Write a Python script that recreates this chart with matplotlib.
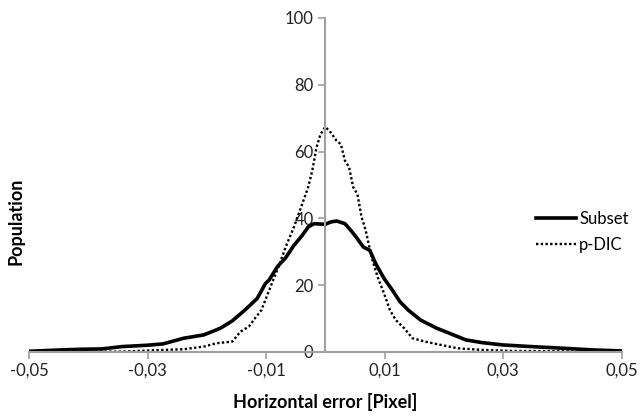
import numpy as np
import matplotlib
matplotlib.use("Agg")
import matplotlib.pyplot as plt

# values
subset_x = [-0.05, -0.0446, -0.0412, -0.0377, -0.0343, -0.0301, -0.0274, -0.0239, -0.0205,
            -0.0177, -0.0157, -0.0136, -0.0115, -0.0101, -0.0095, -0.0081, -0.0067, -0.0053,
            -0.0039, -0.0029, -0.0019, 0.0, 0.0009, 0.0019, 0.0033, 0.0043, 0.0054, 0.0064,
            0.0075, 0.0085, 0.0099, 0.0113, 0.0126, 0.014, 0.0161, 0.0188, 0.0209, 0.0237,
            0.0264, 0.0299, 0.0347, 0.0402, 0.0451, 0.05]
subset_y = [0.2, 0.6, 0.8, 0.9, 1.6, 2.0, 2.4, 4.1, 5.1,
            7.1, 9.3, 12.5, 16.0, 20.5, 21.5, 25.5, 28.2, 31.9,
            34.9, 37.4, 38.4, 38.2, 38.9, 39.2, 38.4, 36.4, 33.9, 31.4,
            30.4, 26.4, 22.0, 18.5, 15.0, 12.5, 9.5, 7.1, 5.6, 3.6,
            2.8, 2.1, 1.6, 1.1, 0.6, 0.3]

pdic_x = [-0.05, -0.0343, -0.0274, -0.0239, -0.0205, -0.0184, -0.0157, -0.0143, -0.0129,
          -0.0119, -0.0108, -0.0098, -0.0088, -0.0077, -0.0067, -0.0053, -0.0039, -0.0029,
          -0.0022, -0.0015, -0.0008, 0.0, 0.0009, 0.0019, 0.0026, 0.0033, 0.004, 0.0047,
          0.0054, 0.0061, 0.0068, 0.0078, 0.0088, 0.0099, 0.0109, 0.0119, 0.0133, 0.0147,
          0.0168, 0.0195, 0.0223, 0.0264, 0.0313, 0.05]
pdic_y = [0.1, 0.1, 0.6, 0.8, 1.6, 2.6, 3.1, 6.1, 7.6,
          10.0, 12.5, 17.0, 21.5, 26.4, 31.4, 37.4, 44.3, 49.3,
          54.3, 61.2, 65.2, 67.4, 65.7, 63.2, 62.2, 57.3, 55.3, 49.3,
          47.3, 40.4, 36.4, 28.4, 22.5, 17.5, 12.5, 9.5, 7.1, 4.1,
          3.1, 2.1, 1.1, 0.6, 0.3, 0.1]

xticks = [-0.05, -0.03, -0.01, 0.01, 0.03, 0.05]
xtick_labels = ['-0,05', '-0,03', '-0,01', '0,01', '0,03', '0,05']
yticks = [0, 20, 40, 60, 80, 100]

plt.rcParams["font.family"] = ["Lato", "DejaVu Sans"]
plt.rcParams["font.size"] = 12

fig = plt.figure(figsize=(6.43, 4.16), dpi=100)
ax = fig.add_axes([0.045, 0.154, 0.922, 0.803])

ax.plot(subset_x, subset_y, color='black', lw=2.6, label='Subset')
ax.plot(pdic_x, pdic_y, color='black', lw=1.7, linestyle=(0, (1, 1)), label='p-DIC')

ax.set_xlim(-0.05, 0.05)
ax.set_ylim(0, 100)
ax.set_xticks(xticks)
ax.set_xticklabels(xtick_labels)
ax.set_yticks(yticks)

grey = '#a0a0a0'
ax.spines['left'].set_position(('data', 0))
ax.spines['right'].set_visible(False)
ax.spines['top'].set_visible(False)
for s in ('left', 'bottom'):
    ax.spines[s].set_color(grey)
    ax.spines[s].set_linewidth(1.5)
ax.tick_params(axis='both', colors=grey, labelcolor='#222222', length=5, width=1.2, labelsize=12)
ax.tick_params(axis='x', pad=3)

ax.set_xlabel('Horizontal error [Pixel]', fontsize=13, fontweight='bold', labelpad=10)
fig.text(0.025, 0.469, 'Population', rotation=90, fontsize=13, fontweight='bold',
         ha='center', va='center')

ax.legend(loc='center left', bbox_to_anchor=(0.855, 0.36), frameon=False, fontsize=12,
          handlelength=2.4, handletextpad=0.2, labelspacing=0.6, borderaxespad=0, borderpad=0)

plt.savefig("out.png", dpi=100)
